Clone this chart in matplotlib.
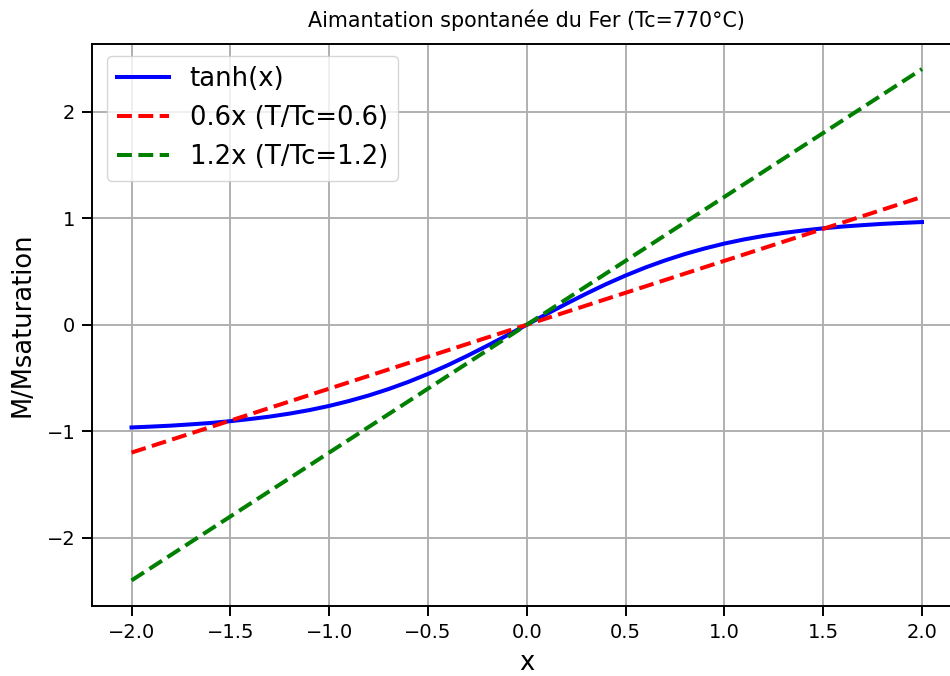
import matplotlib
matplotlib.use("Agg")
import matplotlib.pyplot as plt

x_tanh = [-2.0, -1.9, -1.8, -1.7, -1.6, -1.5, -1.4, -1.3, -1.2, -1.1, -1.0,
          -0.9, -0.8, -0.7, -0.6, -0.5, -0.4, -0.3, -0.2, -0.1, 0.0,
          0.1, 0.2, 0.3, 0.4, 0.5, 0.6, 0.7, 0.8, 0.9, 1.0,
          1.1, 1.2, 1.3, 1.4, 1.5, 1.6, 1.7, 1.8, 1.9, 2.0]
y_tanh = [-0.964, -0.956, -0.947, -0.935, -0.922, -0.905, -0.885, -0.862, -0.834, -0.801, -0.762,
          -0.716, -0.664, -0.604, -0.537, -0.462, -0.380, -0.291, -0.197, -0.100, 0.0,
          0.100, 0.197, 0.291, 0.380, 0.462, 0.537, 0.604, 0.664, 0.716, 0.762,
          0.801, 0.834, 0.862, 0.885, 0.905, 0.922, 0.935, 0.947, 0.956, 0.964]
x_lines = [-2.0, 2.0]
y_06 = [-1.2, 1.2]
y_12 = [-2.4, 2.4]
labels = ["tanh(x)", "0.6x (T/Tc=0.6)", "1.2x (T/Tc=1.2)"]

fig = plt.figure(figsize=(9.5, 6.76), dpi=100)
ax = fig.add_axes([92/950, 70/676, (961.5-92)/950, (606-43.5)/676])
lw = 2.9
ax.plot(x_tanh, y_tanh, color="blue", lw=lw, label=labels[0])
ax.plot(x_lines, y_06, color="red", ls="--", lw=lw, label=labels[1])
ax.plot(x_lines, y_12, color="green", ls="--", lw=lw, label=labels[2])
ax.grid(True, lw=1.4, color="#b0b0b0")
for sp in ax.spines.values():
    sp.set_linewidth(1.4)
ax.tick_params(labelsize=14, width=1.4, length=7, pad=5)
ax.set_xticks([-2.0, -1.5, -1.0, -0.5, 0.0, 0.5, 1.0, 1.5, 2.0])
ax.set_xlabel("x", fontsize=18.5, labelpad=6)
ax.set_ylabel("M/Msaturation", fontsize=18.5, labelpad=8)
ax.set_title("Aimantation spontanée du Fer (Tc=770°C)", fontsize=14.9, pad=12)
ax.legend(fontsize=18.6, loc="upper left", bbox_to_anchor=(15/869.5, 1 - 12.5/562.5),
          borderaxespad=0)
fig.savefig("out.png", dpi=100)
